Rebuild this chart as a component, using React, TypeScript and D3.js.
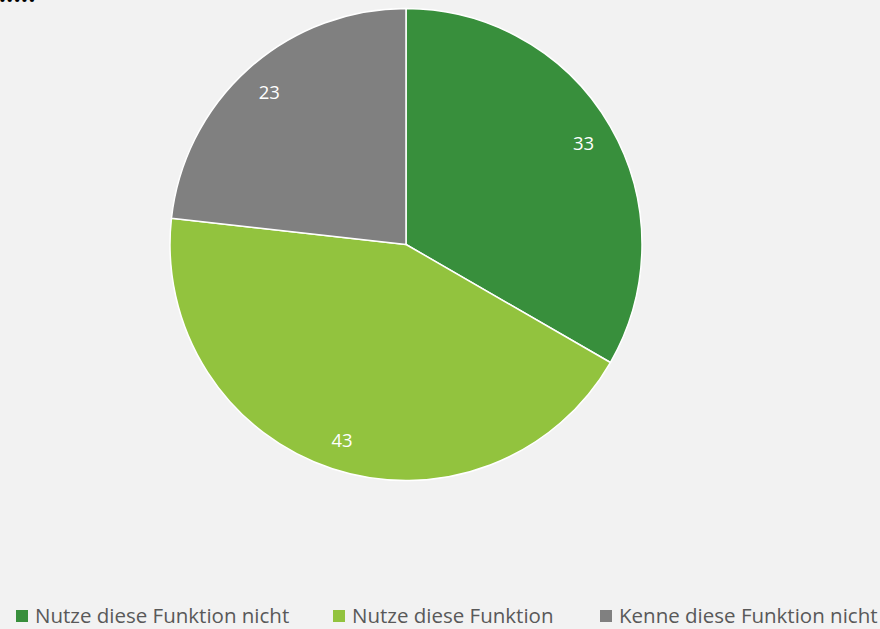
import React from "react";
import * as d3 from "d3";

const categories = ["Nutze diese Funktion nicht", "Nutze diese Funktion", "Kenne diese Funktion nicht"];
const values = [33, 43, 23];
const colors = ["#388F3C", "#92C33E", "#808080"];

const W = 880;
const H = 629;
const cx = 406;
const cy = 244.5;
const R = 236;

export default function App() {
  const pie = d3.pie<number>().sort(null).value((d) => d);
  const arcs = pie(values);
  const arc = d3.arc<d3.PieArcDatum<number>>().innerRadius(0).outerRadius(R);
  const labelArc = d3.arc<d3.PieArcDatum<number>>().innerRadius(205).outerRadius(205);
  const legendX = [16, 333, 600];

  return (
    <svg width={W} height={H} style={{ position: "absolute", left: 0, top: 0, background: "#F2F2F2" }}>
      <rect x={0} y={0} width={W} height={H} fill="#F2F2F2" />
      <text x={-1} y={2} fontFamily="Open Sans, sans-serif" fontWeight="bold" fontSize={24} letterSpacing={0.5} fill="#000">.....</text>
      <g transform={`translate(${cx},${cy})`}>
        {arcs.map((a, i) => (
          <path key={i} d={arc(a) || ""} fill={colors[i]} stroke="#FFFFFF" strokeWidth={1.5} strokeLinejoin="round" />
        ))}
        {arcs.map((a, i) => {
          const [x, y] = labelArc.centroid(a);
          return (
            <text key={i} x={x} y={y} textAnchor="middle" dominantBaseline="central" fill="#FFFFFF" fontFamily="Open Sans, sans-serif" fontSize={18.5}>
              {values[i]}
            </text>
          );
        })}
      </g>
      {categories.map((c, i) => (
        <g key={i}>
          <rect x={legendX[i]} y={610} width={12} height={12} fill={colors[i]} />
          <text x={legendX[i] + 19} y={623} fill="#595959" fontFamily="Open Sans, sans-serif" fontSize={20.5}>
            {c}
          </text>
        </g>
      ))}
    </svg>
  );
}
